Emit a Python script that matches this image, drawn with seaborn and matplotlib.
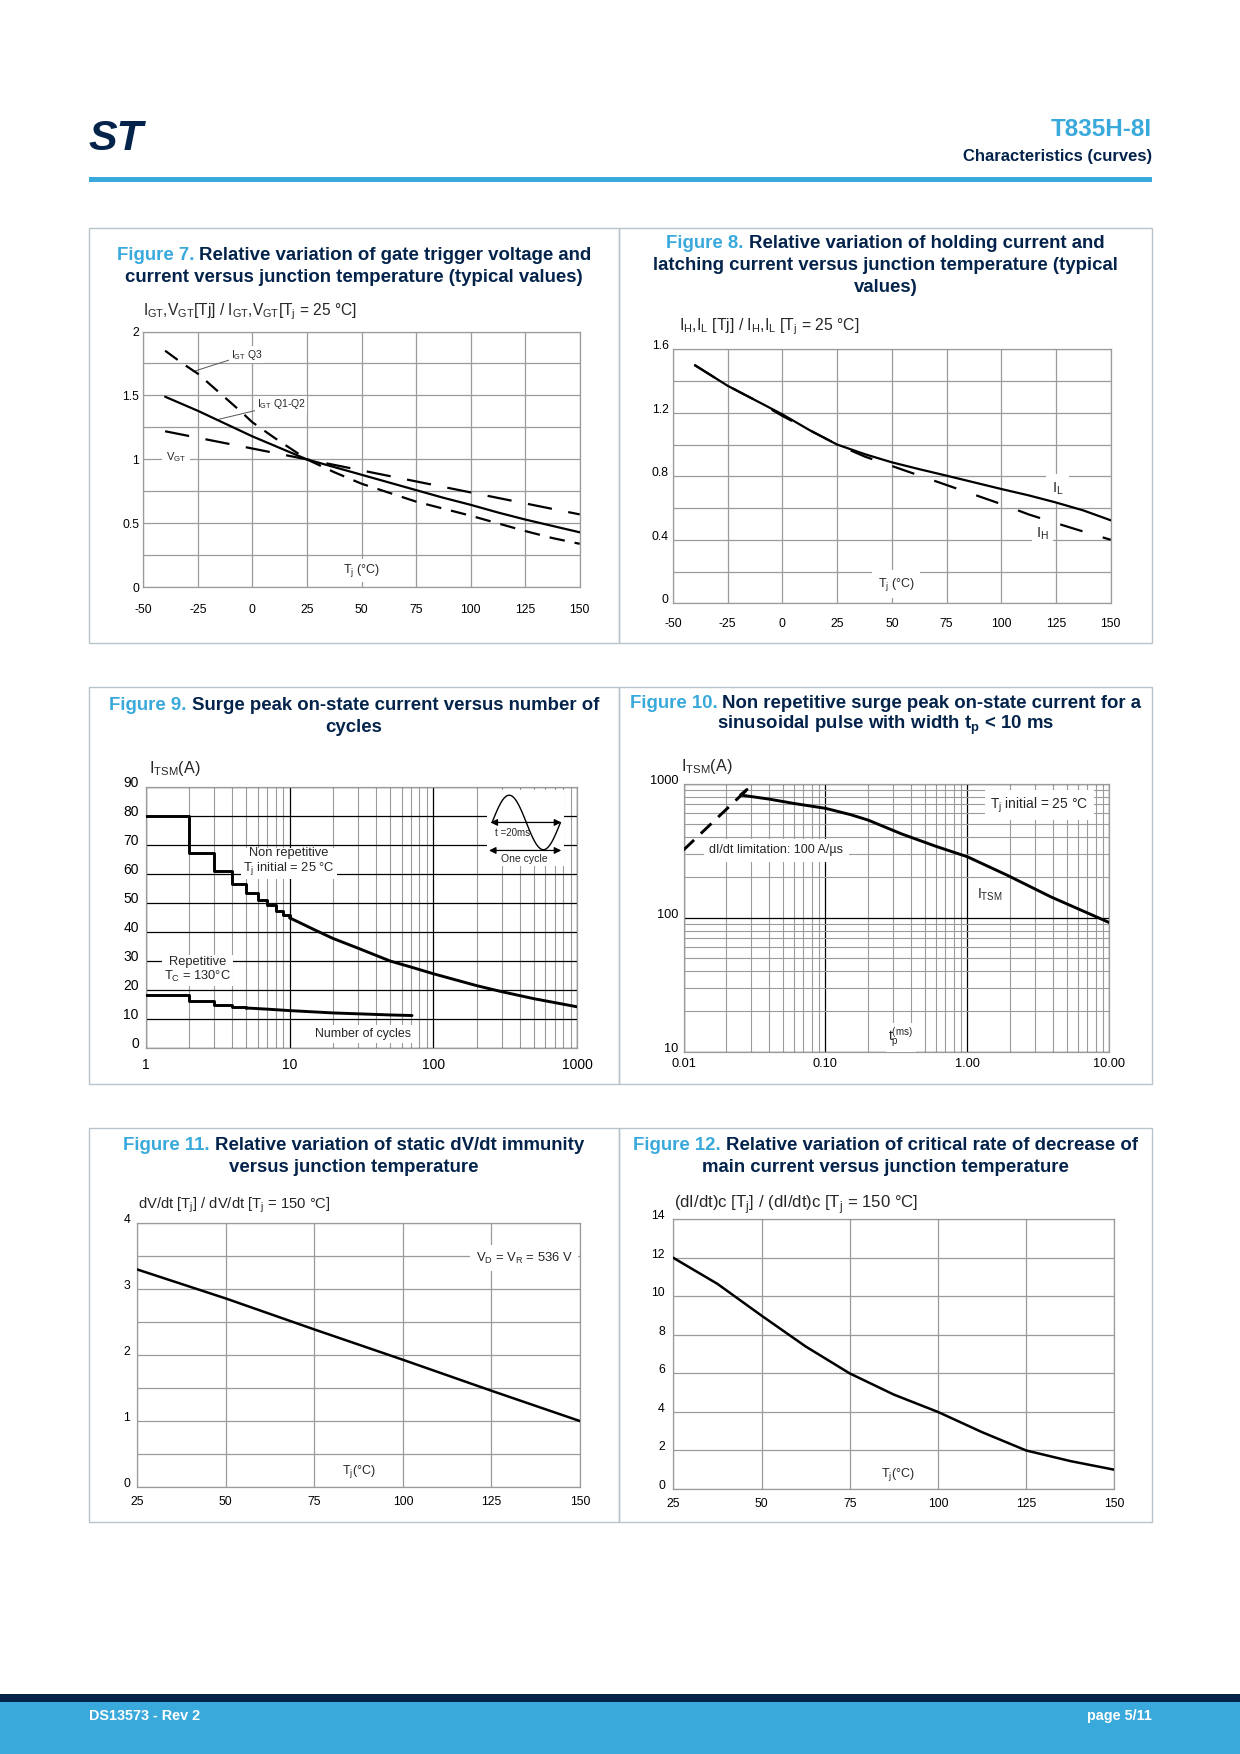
import numpy as np
import matplotlib
matplotlib.use("Agg")
import matplotlib.pyplot as plt
import matplotlib.ticker as mticker
from matplotlib.patches import Rectangle
import seaborn as sns

# Figure 7 - IGT / VGT relative to Tj = 25 C
tj7 = [-40, -25, -12.5, 0, 12.5, 25, 37.5, 50, 62.5, 75, 87.5, 100, 112.5, 125, 137.5, 150]
igt_q12 = [1.49, 1.38, 1.28, 1.18, 1.09, 1.0, 0.94, 0.88, 0.82, 0.76, 0.70, 0.645, 0.585, 0.53, 0.48, 0.43]
tj7_q3 = [-40, -32, -25, -15, -5, 0, 10, 25, 37.5, 50, 62.5, 75, 87.5, 100, 112.5, 125, 137.5, 150]
igt_q3 = [1.85, 1.75, 1.67, 1.52, 1.37, 1.29, 1.17, 1.0, 0.90, 0.81, 0.74, 0.67, 0.615, 0.56, 0.50, 0.44, 0.385, 0.34]
tj7_vgt = [-40, 0, 25, 50, 75, 100, 125, 150]
vgt = [1.22, 1.085, 1.0, 0.914, 0.828, 0.742, 0.656, 0.57]

# Figure 8 - IH / IL relative to Tj = 25 C
tj8 = [-40, -25, -12.5, 0, 12.5, 25, 37.5, 50, 62.5, 75, 87.5, 100, 112.5, 125, 137.5, 150]
il = [1.50, 1.37, 1.28, 1.19, 1.09, 1.0, 0.94, 0.888, 0.845, 0.804, 0.762, 0.72, 0.68, 0.635, 0.585, 0.523]
ih = [1.50, 1.37, 1.28, 1.18, 1.09, 1.0, 0.925, 0.865, 0.805, 0.745, 0.685, 0.625, 0.56, 0.505, 0.452, 0.40]

# Figure 9 - surge current vs number of cycles
nr_step_n = [1, 2, 3, 4, 5, 6, 7, 8, 9, 10]
nr_step_i = [80, 67.5, 61, 56.7, 53.4, 51.1, 49.4, 47.5, 46, 45]
nr_n = [10, 15, 20, 30, 50, 70, 100, 200, 300, 500, 1000]
nr_i = [45, 40.8, 37.9, 34.5, 30.1, 28.0, 25.7, 21.6, 19.5, 17.1, 14.3]
rep_step_n = [1, 2, 3, 4, 5]
rep_step_i = [18.5, 16.2, 15.0, 14.3, 13.9]
rep_n = [5, 7, 10, 20, 50, 71]
rep_i = [13.9, 13.5, 13.0, 12.2, 11.5, 11.3]

# Figure 10 - surge current vs pulse width
tp = [0.028, 0.0252, 0.04, 0.06, 0.1, 0.15, 0.2, 0.344, 0.6, 1.0, 1.9, 3.88, 10]
itsm = [905, 823, 768, 712, 655, 588, 535, 422, 341, 285, 208, 143, 92]
tp_lim = [0.01, 0.0281]
i_lim = [320, 905]

# Figure 11 - dV/dt relative to Tj = 150 C
tj11 = [25, 50, 75, 100, 125, 150]
dvdt = [3.30, 2.86, 2.39, 1.93, 1.46, 1.0]

# Figure 12 - (dI/dt)c relative to Tj = 150 C
tj12 = [25, 37.5, 50, 62.5, 75, 87.5, 100, 112.5, 125, 137.5, 150]
didt = [12.0, 10.65, 9.0, 7.4, 6.0, 4.9, 4.0, 2.95, 2.0, 1.45, 1.0]

sns.set_style("white")
plt.rcParams["font.family"] = ["Liberation Sans", "DejaVu Sans"]
plt.rcParams["axes.unicode_minus"] = False

W, H = 1240, 1754
BLUE = "#39A9DC"
NAVY = "#03234B"
GRID = "#9B9B9B"
TS = 13.4
WHITE_BOX = dict(facecolor="white", edgecolor="none", pad=2)

fig = plt.figure(figsize=(W / 100, H / 100), dpi=100)


def fx(x):
    return x / W


def fy(y):
    return 1 - y / H


def make_axes(l, t, r, b):
    return fig.add_axes([l / W, 1 - b / H, (r - l) / W, (b - t) / H])


def base_style(ax, xpad, ypad, raise_y=True, size=8.8):
    ax.tick_params(which="both", length=0, labelsize=size, colors="black")
    ax.tick_params(axis="x", pad=xpad)
    ax.tick_params(axis="y", pad=ypad)
    for s in ax.spines.values():
        s.set_color(GRID)
        s.set_linewidth(0.9)
    ax.set_xlabel("")
    ax.set_ylabel("")
    ax.set_axisbelow(True)
    if raise_y:
        plt.setp(ax.get_yticklabels(), va="baseline")


def lin_axes(ax, xlim, xt, ylim, yt, ylab, yminor=None):
    ax.set_xlim(xlim)
    ax.set_ylim(ylim)
    ax.set_xticks(xt)
    ax.set_xticklabels([f"{v:g}" for v in xt])
    ax.set_yticks(yt)
    ax.set_yticklabels(ylab)
    if yminor is not None:
        ax.set_yticks(yminor, minor=True)
    ax.grid(True, which="both", color=GRID, lw=0.9)


def panel_title(xc, y, num, rest, more):
    r = fig.canvas.get_renderer()
    t1 = fig.text(0, fy(y), num, color=BLUE, fontsize=TS, fontweight="bold", va="center")
    t2 = fig.text(0, fy(y), rest, color=NAVY, fontsize=TS, fontweight="bold", va="center")
    w1 = t1.get_window_extent(r).width
    w2 = t2.get_window_extent(r).width
    gap = TS * 100 / 72 * 0.278
    x0 = xc - (w1 + gap + w2) / 2
    t1.set_x(fx(x0))
    t2.set_x(fx(x0 + w1 + gap))
    for i, line in enumerate(more):
        fig.text(fx(xc), fy(y + 22 * (i + 1)), line, color=NAVY, fontsize=TS,
                 fontweight="bold", ha="center", va="center")


# ---------------- page frame ----------------
fig.text(fx(88), fy(139), "ST", fontsize=31, fontweight="heavy", fontstyle="italic",
         color=NAVY, ha="left", va="center")
fig.text(fx(1152), fy(129), "T835H-8I", fontsize=17.5, fontweight="bold", color=BLUE,
         ha="right", va="center")
fig.text(fx(1152), fy(156.5), "Characteristics (curves)", fontsize=12, fontweight="bold",
         color=NAVY, ha="right", va="center")
fig.patches.append(Rectangle((fx(89), fy(182)), fx(1152 - 89), 5 / H, transform=fig.transFigure,
                             facecolor=BLUE, edgecolor="none"))
fig.patches.append(Rectangle((0, fy(1702)), 1, 8 / H, transform=fig.transFigure,
                             facecolor=NAVY, edgecolor="none"))
fig.patches.append(Rectangle((0, 0), 1, 52 / H, transform=fig.transFigure,
                             facecolor=BLUE, edgecolor="none"))
fig.text(fx(89), fy(1716), "DS13573 - Rev 2", fontsize=10.4, fontweight="bold", color="white",
         ha="left", va="center")
fig.text(fx(1152), fy(1716), "page 5/11", fontsize=10.4, fontweight="bold", color="white",
         ha="right", va="center")

for (x0, y0, x1, y1) in [(89, 227.5, 619, 643), (619, 227.5, 1152, 643),
                         (89, 687.5, 619, 1084), (619, 687.5, 1152, 1084),
                         (89, 1127.5, 619, 1522), (619, 1127.5, 1152, 1522)]:
    fig.patches.append(Rectangle((fx(x0), fy(y1)), fx(x1 - x0), (y1 - y0) / H,
                                 transform=fig.transFigure, facecolor="none",
                                 edgecolor="#B9C3CA", lw=1.0))

# ---------------- Figure 7 ----------------
panel_title(354, 255, "Figure 7.", "Relative variation of gate trigger voltage and",
            ["current versus junction temperature (typical values)"])
fig.text(fx(143), fy(312), r"I$_\mathregular{GT}$,V$_\mathregular{GT}$[Tj] / I$_\mathregular{GT}$,V$_\mathregular{GT}$[T$_\mathregular{j}$ = 25 °C]",
         fontsize=11.2, ha="left", va="center")
ax7 = make_axes(143.3, 331.5, 579.7, 587.3)
sns.lineplot(x=tj7, y=igt_q12, ax=ax7, color="black", lw=1.6, errorbar=None, zorder=4)
sns.lineplot(x=tj7_q3, y=igt_q3, ax=ax7, color="black", lw=1.6, errorbar=None, zorder=4,
             linestyle=(0, (7, 4.5)))
sns.lineplot(x=tj7_vgt, y=vgt, ax=ax7, color="black", lw=1.6, errorbar=None, zorder=4,
             linestyle=(0, (11, 7.5)))
lin_axes(ax7, (-50, 150), [-50, -25, 0, 25, 50, 75, 100, 125, 150], (0, 2),
         [0, 0.5, 1, 1.5, 2], ["0", "0.5", "1", "1.5", "2"], [0.25, 0.75, 1.25, 1.75])
base_style(ax7, 12, 3, raise_y=False)
ax7.annotate(r"I$_\mathregular{GT}$ Q3", xy=(-27.1, 1.687), xytext=(-10, 1.82), fontsize=7.5,
             ha="left", va="center", bbox=dict(facecolor="white", edgecolor="none", pad=1),
             arrowprops=dict(arrowstyle="-", lw=0.7, color="#555555", shrinkA=0, shrinkB=0))
ax7.annotate(r"I$_\mathregular{GT}$ Q1-Q2", xy=(-16.3, 1.31), xytext=(2, 1.43), fontsize=7.5,
             ha="left", va="center", bbox=dict(facecolor="white", edgecolor="none", pad=1),
             arrowprops=dict(arrowstyle="-", lw=0.7, color="#555555", shrinkA=0, shrinkB=0))
ax7.text(-35, 1.02, r"V$_\mathregular{GT}$", fontsize=8, ha="center", va="center",
         bbox=dict(facecolor="white", edgecolor="none", pad=3))
ax7.text(50.2, 0.13, r"T$_\mathregular{j}$ (°C)", fontsize=9, ha="center", va="center", bbox=WHITE_BOX)

# ---------------- Figure 8 ----------------
panel_title(885.5, 243.3, "Figure 8.", "Relative variation of holding current and",
            ["latching current versus junction temperature (typical", "values)"])
fig.text(fx(679), fy(327), r"I$_\mathregular{H}$,I$_\mathregular{L}$ [Tj] / I$_\mathregular{H}$,I$_\mathregular{L}$ [T$_\mathregular{j}$ = 25 °C]",
         fontsize=11.3, ha="left", va="center")
ax8 = make_axes(673, 349.3, 1110.7, 603.3)
sns.lineplot(x=tj8, y=il, ax=ax8, color="black", lw=1.6, errorbar=None, zorder=4)
sns.lineplot(x=tj8, y=ih, ax=ax8, color="black", lw=1.6, errorbar=None, zorder=4,
             linestyle=(0, (10.5, 9.5)))
lin_axes(ax8, (-50, 150), [-50, -25, 0, 25, 50, 75, 100, 125, 150], (0, 1.6),
         [0, 0.4, 0.8, 1.2, 1.6], ["0", "0.4", "0.8", "1.2", "1.6"], [0.2, 0.6, 1.0, 1.4])
base_style(ax8, 10.8, 3)
ax8.text(125.7, 0.725, r"I$_\mathregular{L}$", fontsize=10.5, ha="center", va="center",
         bbox=dict(facecolor="white", edgecolor="none", pad=4))
ax8.text(119, 0.44, r"I$_\mathregular{H}$", fontsize=10.5, ha="center", va="center",
         bbox=dict(facecolor="white", edgecolor="none", pad=3))
ax8.text(52, 0.12, r"T$_\mathregular{j}$ (°C)", fontsize=9, ha="center", va="center",
         bbox=dict(facecolor="white", edgecolor="none", pad=4))

# ---------------- Figure 9 ----------------
panel_title(354, 705.7, "Figure 9.", "Surge peak on-state current versus number of", ["cycles"])
fig.text(fx(149), fy(769), r"I$_\mathregular{TSM}$(A)", fontsize=11.6, ha="left", va="center")
ax9 = make_axes(145.7, 787.3, 577.3, 1048.3)
ax9.set_xscale("log")
sns.lineplot(x=nr_step_n, y=nr_step_i, ax=ax9, color="black", lw=2.1, errorbar=None, zorder=4,
             drawstyle="steps-post")
sns.lineplot(x=nr_n, y=nr_i, ax=ax9, color="black", lw=2.1, errorbar=None, zorder=4)
sns.lineplot(x=rep_step_n, y=rep_step_i, ax=ax9, color="black", lw=2.1, errorbar=None, zorder=4,
             drawstyle="steps-post")
sns.lineplot(x=rep_n, y=rep_i, ax=ax9, color="black", lw=2.1, errorbar=None, zorder=4)
ax9.set_xlim(1, 1000)
ax9.set_ylim(0, 90)
ax9.xaxis.set_major_locator(mticker.FixedLocator([1, 10, 100, 1000]))
ax9.xaxis.set_major_formatter(mticker.FixedFormatter(["1", "10", "100", "1000"]))
ax9.xaxis.set_minor_locator(mticker.LogLocator(base=10, subs=range(2, 10)))
ax9.xaxis.set_minor_formatter(mticker.NullFormatter())
ax9.set_yticks(range(0, 91, 10))
ax9.set_yticklabels([str(v) for v in range(0, 91, 10)])
ax9.grid(True, which="major", color="black", lw=0.9)
ax9.grid(True, which="minor", axis="x", color=GRID, lw=0.8)
base_style(ax9, 7, 5, size=10)
ax9.text(9.9, 64.2, "Non repetitive\n" + r"T$_\mathregular{j}$ initial = 25 °C", fontsize=9.3,
         ha="center", va="center", linespacing=1.1, bbox=dict(facecolor="white", edgecolor="none", pad=1.5))
ax9.text(2.3, 27.0, "Repetitive\n" + r"T$_\mathregular{C}$ = 130°C", fontsize=9.3,
         ha="center", va="center", linespacing=1.1, bbox=dict(facecolor="white", edgecolor="none", pad=1.5))
ax9.text(32.3, 4.9, "Number of cycles", fontsize=8.9, ha="center", va="center", bbox=WHITE_BOX)

# one-cycle sine icon
ins = ax9.inset_axes([0.79, 0.70, 0.18, 0.29])
ins.set_xlim(0, 1)
ins.set_ylim(0, 1)
ins.set_xticks([])
ins.set_yticks([])
for s in ins.spines.values():
    s.set_visible(False)
ins.set_facecolor("white")
ph = np.linspace(0, 2 * np.pi, 80)
ins.plot(0.07 + 0.88 * ph / (2 * np.pi), 0.57 + 0.36 * np.sin(ph), color="black", lw=1.0)
ins.annotate("", xy=(0.05, 0.57), xytext=(0.96, 0.57),
             arrowprops=dict(arrowstyle="<|-|>", lw=0.9, color="black", mutation_scale=10,
                             shrinkA=0, shrinkB=0))
ins.annotate("", xy=(0.03, 0.20), xytext=(0.96, 0.20),
             arrowprops=dict(arrowstyle="<|-|>", lw=0.9, color="black", mutation_scale=10,
                             shrinkA=0, shrinkB=0))
ins.text(0.33, 0.43, "t =20ms", fontsize=7, ha="center", va="center")
ins.text(0.49, 0.09, "One cycle", fontsize=7.5, ha="center", va="center")

# ---------------- Figure 10 ----------------
panel_title(885.5, 703.3, "Figure 10.", "Non repetitive surge peak on-state current for a",
            [r"sinusoidal pulse with width t$_\mathregular{p}$ < 10 ms"])
fig.text(fx(681), fy(766), r"I$_\mathregular{TSM}$(A)", fontsize=11.6, ha="left", va="center")
ax10 = make_axes(683.5, 783.7, 1109.3, 1051.7)
ax10.set_xscale("log")
ax10.set_yscale("log")
sns.lineplot(x=tp, y=itsm, ax=ax10, color="black", lw=2.1, errorbar=None, zorder=4,
             sort=False, estimator=None)
sns.lineplot(x=tp_lim, y=i_lim, ax=ax10, color="black", lw=2.1, errorbar=None, zorder=4,
             linestyle=(0, (5, 3.2)))
ax10.set_xlim(0.01, 10)
ax10.set_ylim(10, 1000)
ax10.xaxis.set_major_locator(mticker.FixedLocator([0.01, 0.1, 1, 10]))
ax10.xaxis.set_major_formatter(mticker.FixedFormatter(["0.01", "0.10", "1.00", "10.00"]))
ax10.xaxis.set_minor_locator(mticker.LogLocator(base=10, subs=range(2, 10)))
ax10.xaxis.set_minor_formatter(mticker.NullFormatter())
ax10.yaxis.set_major_locator(mticker.FixedLocator([10, 100, 1000]))
ax10.yaxis.set_major_formatter(mticker.FixedFormatter(["10", "100", "1000"]))
ax10.yaxis.set_minor_locator(mticker.LogLocator(base=10, subs=range(2, 10)))
ax10.yaxis.set_minor_formatter(mticker.NullFormatter())
ax10.grid(True, which="major", color="black", lw=0.9)
ax10.grid(True, which="minor", color=GRID, lw=0.8)
base_style(ax10, 4.5, 3.5, size=9.2)
ax10.text(3.2, 693, r"T$_\mathregular{j}$ initial = 25 °C", fontsize=9.9, ha="center", va="center",
          bbox=dict(facecolor="white", edgecolor="none", pad=4))
ax10.text(0.0452, 320, "dI/dt limitation: 100 A/µs", fontsize=9, ha="center", va="center",
          bbox=dict(facecolor="white", edgecolor="none", pad=4))
ax10.text(1.45, 147, r"I$_\mathregular{TSM}$", fontsize=10, ha="center", va="center", bbox=WHITE_BOX)
ax10.text(0.34, 12.8, r"$\mathregular{t_p^{(ms)}}$", fontsize=10, ha="center", va="center", bbox=WHITE_BOX)

# ---------------- Figure 11 ----------------
panel_title(354, 1145, "Figure 11.", "Relative variation of static dV/dt immunity",
            ["versus junction temperature"])
fig.text(fx(138), fy(1205), r"dV/dt [T$_\mathregular{j}$] / dV/dt [T$_\mathregular{j}$ = 150 °C]",
         fontsize=10.6, ha="left", va="center")
ax11 = make_axes(137.2, 1223.3, 580, 1487)
sns.lineplot(x=tj11, y=dvdt, ax=ax11, color="black", lw=1.8, errorbar=None, zorder=4)
lin_axes(ax11, (25, 150), [25, 50, 75, 100, 125, 150], (0, 4), [0, 1, 2, 3, 4],
         ["0", "1", "2", "3", "4"], [0.5, 1.5, 2.5, 3.5])
base_style(ax11, 6.2, 5)
ax11.text(134.2, 3.47, r"V$_\mathregular{D}$ = V$_\mathregular{R}$ = 536 V", fontsize=9.4,
          ha="center", va="center", bbox=dict(facecolor="white", edgecolor="none", pad=4))
ax11.text(87.5, 0.23, r"T$_\mathregular{j}$(°C)", fontsize=9, ha="center", va="center", bbox=WHITE_BOX)

# ---------------- Figure 12 ----------------
panel_title(885.5, 1145, "Figure 12.", "Relative variation of critical rate of decrease of",
            ["main current versus junction temperature"])
fig.text(fx(674), fy(1204.5), r"(dI/dt)c [T$_\mathregular{j}$] / (dI/dt)c [T$_\mathregular{j}$ = 150 °C]",
         fontsize=12.1, ha="left", va="center")
ax12 = make_axes(673.3, 1219.3, 1114.4, 1489)
sns.lineplot(x=tj12, y=didt, ax=ax12, color="black", lw=1.8, errorbar=None, zorder=4)
lin_axes(ax12, (25, 150), [25, 50, 75, 100, 125, 150], (0, 14), list(range(0, 15, 2)),
         [str(v) for v in range(0, 15, 2)])
base_style(ax12, 6.5, 6)
ax12.text(88.6, 0.73, r"T$_\mathregular{j}$(°C)", fontsize=9, ha="center", va="center", bbox=WHITE_BOX)

fig.savefig("out.png", dpi=100)
